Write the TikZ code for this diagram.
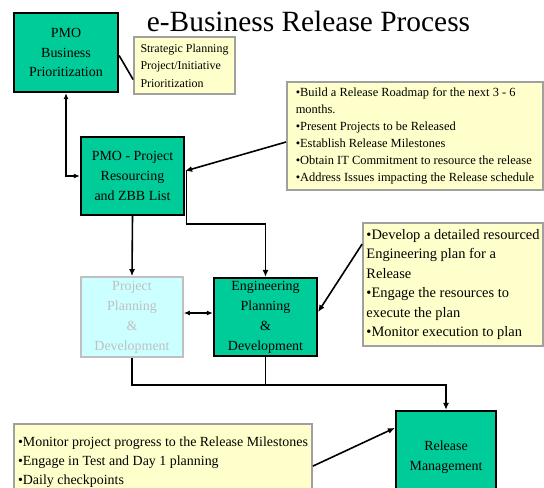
\documentclass[tikz,border=0pt]{standalone}
\usepackage{fontspec}
\setmainfont{Liberation Serif}
\usetikzlibrary{positioning, arrows.meta}
\definecolor{stagefill}{HTML}{00CC99}
\definecolor{notefill}{HTML}{FFFFCC}
\definecolor{noterule}{HTML}{A0A0A0}
\definecolor{idlefill}{HTML}{CCFFFF}
\definecolor{idlerule}{HTML}{C0C0C0}

\begin{document}
\begin{tikzpicture}[
  x=1bp, y=-1bp,
  font=\fontsize{14}{20}\selectfont,
  every node/.style={align=center},
  stage/.style={
    rectangle, draw=black, line width=2.2bp,
    fill=stagefill,
    minimum width=103bp, minimum height=78bp,
    inner sep=2bp
  },
  idle/.style={
    stage, draw=idlerule, line width=1.6bp,
    fill=idlefill, text=idlerule
  },
  note/.style={
    rectangle, draw=noterule, line width=1.8bp,
    fill=notefill, align=left,
    inner sep=2bp
  },
  arrow/.style={-{Latex[length=7bp, width=6bp]}, line width=1.6bp, color=black},
  twoway/.style={{Latex[length=6bp, width=5bp]}-{Latex[length=6bp, width=5bp]}, line width=1.6bp},
  link/.style={line width=1.6bp}
]

% =============================================================================
% Page frame (units = bp, y grows downward, origin top left)
% =============================================================================
\clip (0,0) rectangle (544,488);

% --- Title
\node[anchor=base, font=\fontsize{29.5}{32}\selectfont] (title) at (308.5,32)
  {e-Business Release Process};

% --- Row 0: PMO prioritization and its note
\node[stage, minimum width=104bp, minimum height=79bp] (pmo) at (66,52.5) {%
  PMO\\
  Business\\
  Prioritization
};
\node[note, minimum width=101bp, minimum height=57bp,
      font=\fontsize{12}{17.5}\selectfont] (strategy) at (184.5,65.5) {%
  Strategic Planning\\
  Project/Initiative\\
  Prioritization
};

% --- Row 1: Resourcing and the roadmap note
\node[stage] (resourcing) at (132.5,176) {%
  PMO - Project\\
  Resourcing\\
  and ZBB List
};
\node[note, minimum width=256bp, minimum height=108bp,
      font=\fontsize{12.5}{17}\selectfont] (roadmap) at (415,136) {%
  •Build a Release Roadmap for the next 3 - 6\\
  months.\\
  •Present Projects to be Released\\
  •Establish Release Milestones\\
  •Obtain IT Commitment to resource the release\\
  •Address Issues impacting the Release schedule
};

% --- Row 2: Planning and development
\node[idle, minimum width=102bp, minimum height=80bp] (planning) at (132,317) {%
  Project\\
  Planning\\
  \&\\
  Development
};
\node[stage] (engineering) at (265.5,317) {%
  Engineering\\
  Planning\\
  \&\\
  Development
};
\node[note, minimum width=180bp, minimum height=123bp,
      font=\fontsize{14.5}{19.5}\selectfont] (engnotes) at (453,284.5) {%
  •Develop a detailed resourced\\
  Engineering plan for a\\
  Release\\
  •Engage the resources to\\
  execute the plan\\
  •Monitor execution to plan
};

% --- Row 3: Release management and its note
\node[stage, minimum width=100bp, minimum height=93bp] (release) at (446,457.5) {%
  Release\\
  Management
};
\node[note, minimum width=298bp, minimum height=77bp,
      font=\fontsize{14}{19}\selectfont] (monitor) at (163,462.5) {%
  •Monitor project progress to the Release Milestones\\
  •Engage in Test and Day 1 planning\\
  •Daily checkpoints
};

% =============================================================================
% Connectors
% =============================================================================
\draw[link] ([yshift=-3bp]pmo.east) -- ([yshift=-14bp]strategy.west);
\draw[twoway] (pmo.south) |- (resourcing.west);
\draw[arrow] ([yshift=-6bp]roadmap.west) -- ([yshift=5bp]resourcing.east);
\draw[arrow] (resourcing.south) -- (planning.north);
\draw[arrow] ([xshift=1.5bp, yshift=5bp]resourcing.east) |- ++(0,53) -| (engineering.north);
\draw[twoway] ([yshift=4bp]planning.east) -- ([yshift=4bp]engineering.west);
\draw[arrow] ([yshift=-22bp]engnotes.north west) -- ([yshift=5bp]engineering.east);
\draw[arrow] (planning.south) -- ++(0,27) -| (release.north);
\draw[link] (engineering.south) -- ++(0,28);
\draw[arrow] ([yshift=-43bp]monitor.north east) -- ([yshift=-18bp]release.north west);

\end{tikzpicture}
\end{document}
